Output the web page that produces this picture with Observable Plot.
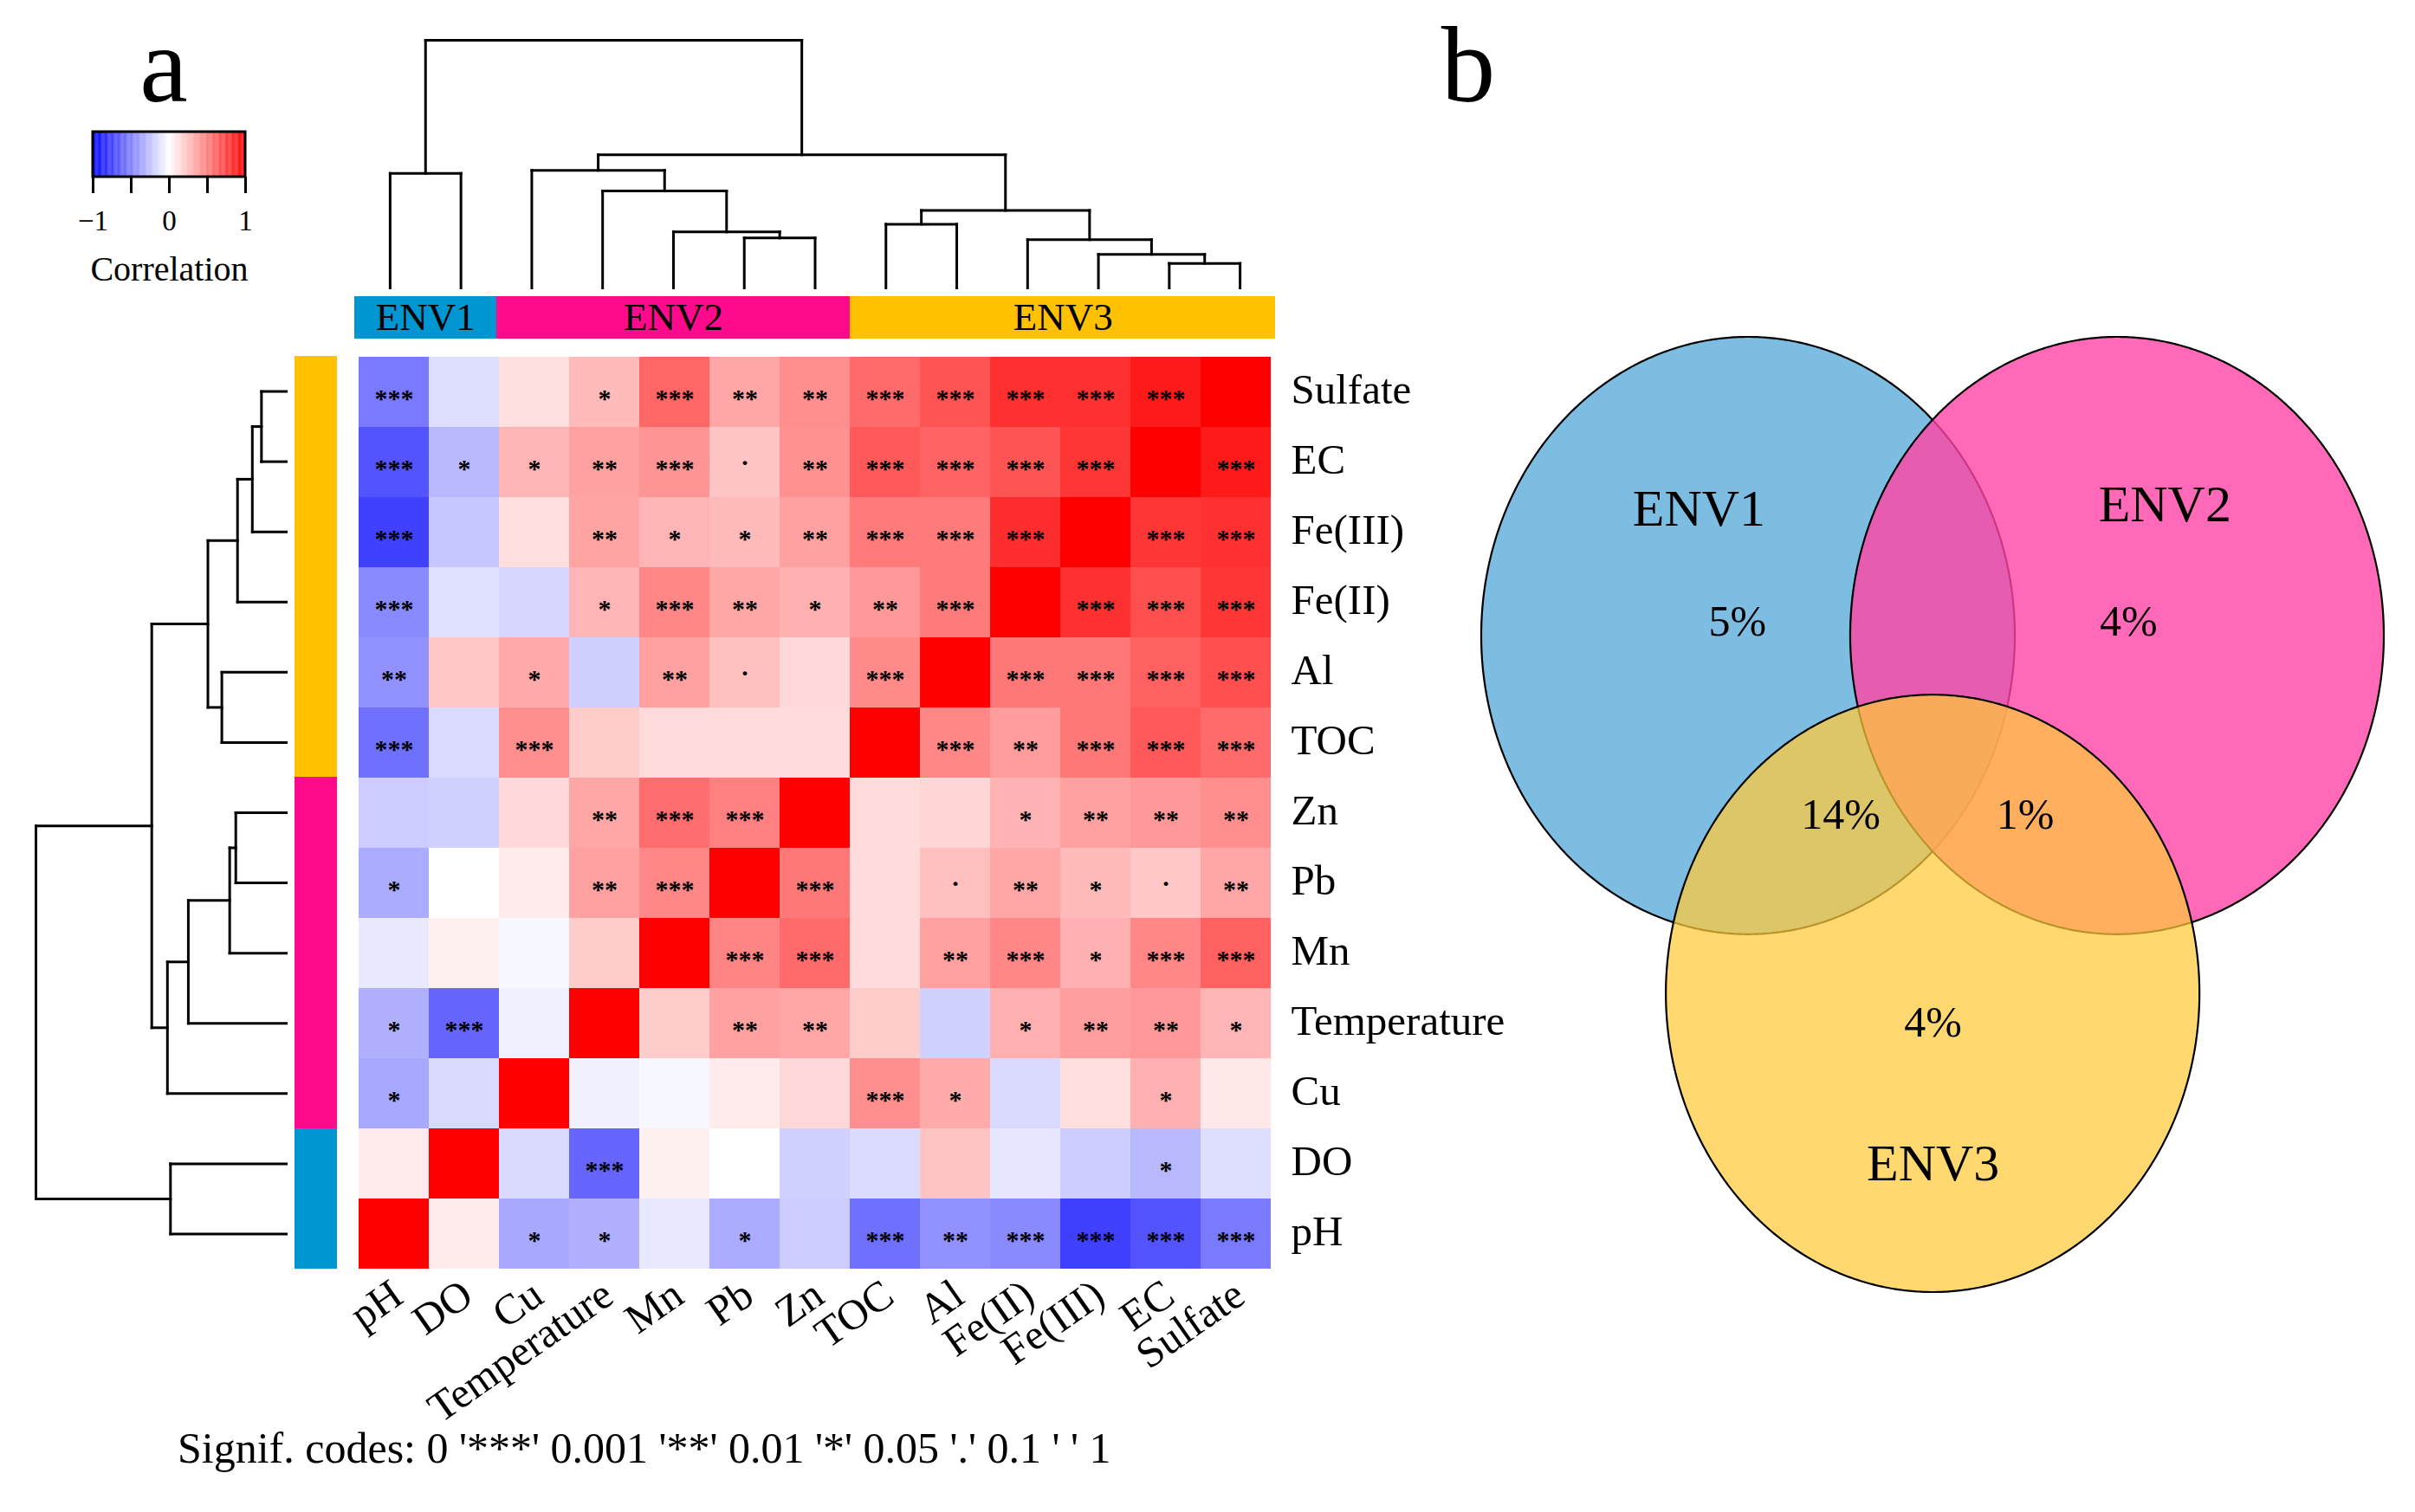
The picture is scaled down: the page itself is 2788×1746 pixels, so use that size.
<!DOCTYPE html>
<html><head><meta charset="utf-8">
<script src="https://cdn.jsdelivr.net/npm/d3@7"></script>
<script src="https://cdn.jsdelivr.net/npm/@observablehq/plot@0.6"></script>
<style>
body{margin:0;background:#fff;}
#page{position:relative;width:2788px;height:1746px;overflow:hidden;background:#fff;}
#page svg{position:absolute;left:0;top:0;}
.lbl{position:absolute;line-height:1.107;font-family:"Liberation Serif",serif;color:#000;white-space:nowrap;}
</style></head><body><div id="page"></div>
<script>
// ---------------- data ----------------
const cols = ["pH","DO","Cu","Temperature","Mn","Pb","Zn","TOC","Al","Fe(II)","Fe(III)","EC","Sulfate"];
const rows = ["Sulfate","EC","Fe(III)","Fe(II)","Al","TOC","Zn","Pb","Mn","Temperature","Cu","DO","pH"];
// correlation values, rows (top->bottom) x cols (left->right)
const corr = [
  [-0.52,-0.13, 0.12, 0.27, 0.60, 0.35, 0.44, 0.58, 0.67, 0.81, 0.81, 0.90, 1.00],
  [-0.67,-0.28, 0.29, 0.37, 0.42, 0.23, 0.43, 0.65, 0.61, 0.67, 0.79, 1.00, 0.90],
  [-0.75,-0.22, 0.13, 0.36, 0.29, 0.27, 0.37, 0.52, 0.52, 0.82, 1.00, 0.79, 0.81],
  [-0.46,-0.12,-0.16, 0.29, 0.47, 0.35, 0.31, 0.40, 0.52, 1.00, 0.81, 0.69, 0.79],
  [-0.43, 0.22, 0.33,-0.19, 0.37, 0.25, 0.15, 0.46, 1.00, 0.53, 0.53, 0.62, 0.69],
  [-0.56,-0.14, 0.44, 0.20, 0.14, 0.14, 0.14, 1.00, 0.47, 0.39, 0.53, 0.65, 0.58],
  [-0.20,-0.18, 0.15, 0.35, 0.57, 0.50, 1.00, 0.14, 0.16, 0.30, 0.37, 0.40, 0.44],
  [-0.33, 0.00, 0.08, 0.37, 0.47, 1.00, 0.53, 0.14, 0.25, 0.35, 0.27, 0.22, 0.35],
  [-0.09, 0.06,-0.03, 0.20, 1.00, 0.48, 0.58, 0.14, 0.37, 0.47, 0.31, 0.47, 0.62],
  [-0.31,-0.60,-0.06, 1.00, 0.20, 0.37, 0.35, 0.20,-0.18, 0.31, 0.38, 0.40, 0.29],
  [-0.34,-0.15, 1.00,-0.06,-0.03, 0.08, 0.15, 0.44, 0.33,-0.15, 0.13, 0.31, 0.09],
  [ 0.08, 1.00,-0.15,-0.60, 0.06, 0.00,-0.18,-0.14, 0.23,-0.10,-0.20,-0.28,-0.13],
  [ 1.00, 0.08,-0.34,-0.31,-0.09,-0.33,-0.20,-0.56,-0.43,-0.46,-0.75,-0.67,-0.52]
];
const sig = [
  ["***","","","*","***","**","**","***","***","***","***","***",""],
  ["***","*","*","**","***",".","**","***","***","***","***","","***"],
  ["***","","","**","*","*","**","***","***","***","","***","***"],
  ["***","","","*","***","**","*","**","***","","***","***","***"],
  ["**","","*","","**",".","","***","","***","***","***","***"],
  ["***","","***","","","","","","***","**","***","***","***"],
  ["","","","**","***","***","","","","*","**","**","**"],
  ["*","","","**","***","","***","",".","**","*",".","**"],
  ["","","","","","***","***","","**","***","*","***","***"],
  ["*","***","","","","**","**","","","*","**","**","*"],
  ["*","","","","","","","***","*","","","*",""],
  ["","","","***","","","","","","","","*",""],
  ["","","*","*","","*","","***","**","***","***","***","***"]
];
// hierarchical clustering merges (same tree for rows and columns)
const merges = [
  {id:"m1",  a:"EC",          b:"Sulfate", h:0.285},
  {id:"m2",  a:"Fe(III)",     b:"m1",      h:0.39},
  {id:"m3",  a:"Fe(II)",      b:"m2",      h:0.56},
  {id:"m4",  a:"TOC",         b:"Al",      h:0.74},
  {id:"m5",  a:"m4",          b:"m3",      h:0.90},
  {id:"m6",  a:"Pb",          b:"Zn",      h:0.58},
  {id:"m7",  a:"Mn",          b:"m6",      h:0.65},
  {id:"m8",  a:"Temperature", b:"m7",      h:1.125},
  {id:"m9",  a:"Cu",          b:"m8",      h:1.365},
  {id:"m10", a:"m9",          b:"m5",      h:1.545},
  {id:"m11", a:"pH",          b:"DO",      h:1.33},
  {id:"m12", a:"m11",         b:"m10",     h:2.875}
];
const groupOf = {pH:"ENV1", DO:"ENV1", Cu:"ENV2", Temperature:"ENV2", Mn:"ENV2", Pb:"ENV2", Zn:"ENV2",
  TOC:"ENV3", Al:"ENV3", "Fe(II)":"ENV3", "Fe(III)":"ENV3", EC:"ENV3", Sulfate:"ENV3"};
const groupNames = ["ENV1","ENV2","ENV3"];
const groupColors = ["#0096D2","#FF0A8C","#FFC100"];
const legendTicks = [-1,-0.5,0,0.5,1];
const legendLabels = [{v:-1,t:"\u22121"},{v:0,t:"0"},{v:1,t:"1"}];
const sigCaption = "Signif. codes:  0 '***' 0.001 '**' 0.01 '*' 0.05 '.' 0.1 ' ' 1";
// Venn (circle units, radius 1)
const vennSets = [
  {name:"ENV1", cx:0,     cy:0,     catPos:-23.5, catDist:0.465},
  {name:"ENV2", cx:1.383, cy:0,     catPos:22,    catDist:0.475},
  {name:"ENV3", cx:0.692, cy:1.198, catPos:180,   catDist:0.57}
];
const vennFills = ["#2D95CF","#FF43A5","#FFCA3B"];
const vennAlpha = [0.62, 0.8, 0.73];
const vennRegions = [
  {sets:["ENV1"], label:"5%"},
  {sets:["ENV2"], label:"4%"},
  {sets:["ENV3"], label:"4%"},
  {sets:["ENV1","ENV3"], label:"14%"},
  {sets:["ENV2","ENV3"], label:"1%"}
];

// ---------------- layout ----------------
const W = 2788, H = 1746;
const FONT = "Liberation Serif";
const page = document.getElementById("page");
const HM = {x0:409, x1:1472, y0:411, y1:1465};
function place(opts) {
  const svg = Plot.plot(Object.assign({
    width: W, height: H,
    style: {background: "transparent", overflow: "visible", fontFamily: FONT, color: "black"}
  }, opts));
  page.appendChild(svg);
}
function label(text, left, top, size, width) {
  const d = document.createElement("div");
  d.className = "lbl";
  d.textContent = text;
  d.style.left = left + "px"; d.style.top = top + "px"; d.style.fontSize = size + "px";
  if (width) { d.style.width = width + "px"; d.style.textAlign = "center"; }
  page.appendChild(d);
}
const corrColor = {type: "linear", domain: [-1, 0, 1], range: ["#0000FF", "#FFFFFF", "#FF0000"], interpolate: "rgb"};

// ---------------- heatmap ----------------
const cells = [];
rows.forEach((r, i) => cols.forEach((c, j) => cells.push({row: r, col: c, r: corr[i][j], s: sig[i][j]})));
place({
  marginLeft: HM.x0, marginRight: W - HM.x1, marginTop: HM.y0, marginBottom: H - HM.y1,
  x: {type: "band", domain: cols, padding: 0, axis: null},
  y: {type: "band", domain: rows, padding: 0, axis: null},
  color: corrColor,
  marks: [
    Plot.cell(cells, {x: "col", y: "row", fill: "r", inset: 0, shapeRendering: "crispEdges"}),
    Plot.text(cells.filter(d => d.s && d.s !== "."), {x: "col", y: "row", text: "s", fontSize: 30, fontWeight: "bold", dy: 7, fill: "black"}),
    Plot.text(cells.filter(d => d.s === "."), {x: "col", y: "row", text: "s", fontSize: 30, fontWeight: "bold", dy: -7, fill: "black"}),
    Plot.text(rows, {y: d => d, text: d => d, frameAnchor: "right", textAnchor: "start", dx: 18, dy: -3, fontSize: 49, fill: "black"}),
    Plot.text(cols, {x: d => d, text: d => d, frameAnchor: "bottom", textAnchor: "end", lineAnchor: "bottom",
      rotate: -35, dx: 13, dy: 37, fontSize: 49, fill: "black"})
  ]
});

// ---------------- dendrograms ----------------
function dendro(order) {
  const pos = new Map(order.map((n, i) => [n, i + 0.5]));
  const ht = new Map(order.map(n => [n, 0]));
  const segs = [];
  for (const m of merges) {
    const pa = pos.get(m.a), pb = pos.get(m.b), ha = ht.get(m.a), hb = ht.get(m.b);
    segs.push({p1: pa, h1: ha, p2: pa, h2: m.h}, {p1: pb, h1: hb, p2: pb, h2: m.h}, {p1: pa, h1: m.h, p2: pb, h2: m.h});
    pos.set(m.id, (pa + pb) / 2); ht.set(m.id, m.h);
  }
  return segs;
}
const rootH = d3.max(merges, d => d.h);
place({
  marginLeft: HM.x0, marginRight: W - HM.x1, marginTop: 46, marginBottom: H - 332,
  x: {domain: [0, cols.length], axis: null},
  y: {domain: [0, rootH], axis: null},
  marks: [Plot.link(dendro(cols), {x1: "p1", y1: "h1", x2: "p2", y2: "h2", stroke: "black", strokeWidth: 3, strokeLinecap: "square"})]
});
place({
  marginLeft: 41, marginRight: W - 330, marginTop: HM.y0, marginBottom: H - HM.y1,
  x: {domain: [rootH, 0], axis: null},
  y: {domain: [rows.length, 0], axis: null},
  marks: [Plot.link(dendro(rows), {x1: "h1", y1: "p1", x2: "h2", y2: "p2", stroke: "black", strokeWidth: 3, strokeLinecap: "square"})]
});

// ---------------- annotation bars ----------------
function groupSpans(order) {
  const spans = [];
  order.forEach((n, i) => {
    const g = groupOf[n];
    const last = spans[spans.length - 1];
    if (last && last.group === g) last.end = i + 1;
    else spans.push({group: g, start: i, end: i + 1});
  });
  return spans;
}
const groupColor = {type: "ordinal", domain: groupNames, range: groupColors};
const colSpans = groupSpans(cols);
place({
  marginLeft: HM.x0, marginRight: W - HM.x1, marginTop: 342, marginBottom: H - 391,
  x: {domain: [0, cols.length], axis: null},
  y: {domain: [0, 1], axis: null},
  color: groupColor,
  marks: [
    Plot.rect(colSpans, {x1: "start", x2: "end", y1: 0, y2: 1, fill: "group", shapeRendering: "crispEdges"}),
    Plot.text(colSpans, {x: d => (d.start + d.end) / 2, text: "group", frameAnchor: "middle", fontSize: 45, fill: "black"})
  ]
});
const rowSpans = groupSpans(rows);
place({
  marginLeft: 340, marginRight: W - 389, marginTop: HM.y0, marginBottom: H - HM.y1,
  x: {domain: [0, 1], axis: null},
  y: {domain: [rows.length, 0], axis: null},
  color: groupColor,
  marks: [Plot.rect(rowSpans, {y1: "start", y2: "end", x1: 0, x2: 1, fill: "group", shapeRendering: "crispEdges"})]
});

// ---------------- colour legend ----------------
const ramp = d3.range(-1, 1, 0.01).map(v => ({v0: v, v1: Math.min(1, v + 0.012), v: v + 0.005}));
place({
  marginLeft: 107, marginRight: W - 283, marginTop: 152, marginBottom: H - 204,
  x: {domain: [-1, 1], axis: null},
  y: {domain: [0, 1], axis: null},
  color: corrColor,
  marks: [
    Plot.rect(ramp, {x1: "v0", x2: "v1", y1: 0, y2: 1, fill: "v"}),
    Plot.rect([0], {x1: -1, x2: 1, y1: 0, y2: 1, fill: "none", stroke: "black", strokeWidth: 3})
  ]
});
place({
  marginLeft: 107, marginRight: W - 283, marginTop: 204, marginBottom: H - 223,
  x: {domain: [-1, 1], axis: null},
  marks: [
    Plot.ruleX(legendTicks, {stroke: "black", strokeWidth: 3}),
    Plot.text(legendLabels, {x: "v", text: "t", frameAnchor: "bottom", lineAnchor: "bottom", dy: 42, fontSize: 33, fill: "black"}),
    Plot.text(["Correlation"], {frameAnchor: "bottom", lineAnchor: "bottom", dy: 100, fontSize: 40, fill: "black"})
  ]
});

// ---------------- Venn diagram ----------------
const centroid = {x: d3.mean(vennSets, d => d.cx), y: d3.mean(vennSets, d => d.cy)};
const setByName = new Map(vennSets.map(s => [s.name, s]));
const regionLabels = vennRegions.map(r => {
  const ss = r.sets.map(n => setByName.get(n));
  let x = d3.mean(ss, s => s.cx), y = d3.mean(ss, s => s.cy);
  if (ss.length === 1) { x += 0.06 * (x - centroid.x); y += 0.12 * (y - centroid.y); }
  return {x, y, label: r.label};
});
const setLabels = vennSets.map(s => ({
  name: s.name,
  x: s.cx + s.catDist * Math.sin(s.catPos * Math.PI / 180),
  y: s.cy - s.catDist * Math.cos(s.catPos * Math.PI / 180)
}));
function ellipsePts(s) {
  return d3.range(0, 181, 0.5).map(a => {
    const t = a * Math.PI / 180;
    return {x: s.cx - Math.cos(t), y1: s.cy - Math.sin(t), y2: s.cy + Math.sin(t)};
  });
}
place({
  marginLeft: 1710, marginRight: W - 2752, marginTop: 389, marginBottom: H - 1492,
  x: {domain: [-1, 2.383], axis: null},
  y: {domain: [2.198, -1], axis: null},
  marks: [
    ...vennSets.map((s, i) => Plot.areaY(ellipsePts(s), {x: "x", y1: "y1", y2: "y2", fill: vennFills[i], fillOpacity: vennAlpha[i], stroke: "black", strokeWidth: 2.2})),
    Plot.text(setLabels, {x: "x", y: "y", text: "name", fontSize: 60, fill: "black"}),
    Plot.text(regionLabels, {x: "x", y: "y", text: "label", fontSize: 50, fill: "black"})
  ]
});

// ---------------- panel letters & caption ----------------
label("a", 189 - 60, 117 - 0.891 * 125, 125, 120);
label("b", 1695 - 60, 117 - 0.891 * 125, 125, 120);
label(sigCaption, 205, 1690 - 0.891 * 50, 50);
</script></body></html>
